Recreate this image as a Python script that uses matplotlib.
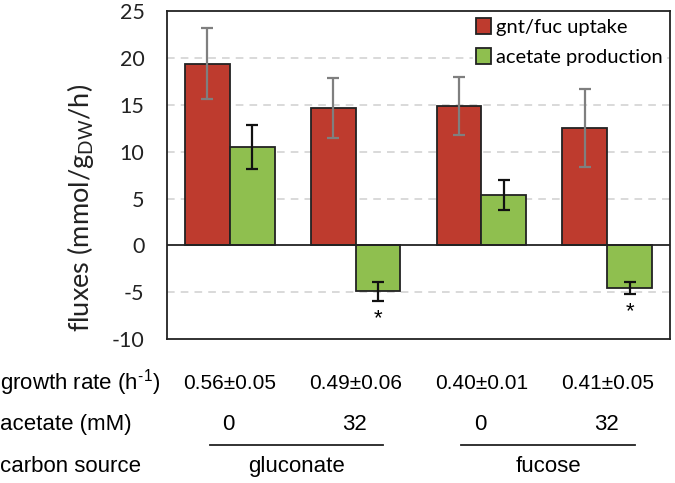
import matplotlib
matplotlib.use("Agg")
import matplotlib.pyplot as plt
import numpy as np

plt.rcParams["axes.unicode_minus"] = False

# Data
conditions = ["gnt 0", "gnt 32", "fuc 0", "fuc 32"]
uptake = [19.4, 14.65, 14.9, 12.55]
uptake_err = [3.8, 3.2, 3.1, 4.15]
acetate = [10.5, -4.9, 5.35, -4.55]
acetate_err = [2.35, 1.0, 1.6, 0.6]
significant = [False, True, False, True]
growth_rate = ["0.56±0.05", "0.49±0.06", "0.40±0.01", "0.41±0.05"]
acetate_mM = ["0", "32", "0", "32"]
carbon_source = ["gluconate", "fucose"]

red = "#BE3B2E"
green = "#8FBF4F"
main_font = "Lato"
table_font = "Liberation Sans"

fig = plt.figure(figsize=(6.75, 4.83), dpi=100)
ax = fig.add_axes([0.247, 0.298, 0.746, 0.679])

x = np.arange(len(conditions))
w = 0.357
ax.bar(x - w / 2, uptake, w, color=red, edgecolor="#222222", linewidth=1.3,
       label="gnt/fuc uptake", zorder=3)
ax.bar(x + w / 2, acetate, w, color=green, edgecolor="#222222", linewidth=1.3,
       label="acetate production", zorder=3)
ax.errorbar(x - w / 2, uptake, yerr=uptake_err, fmt="none", ecolor="#7f7f7f",
            elinewidth=1.6, capsize=4, capthick=1.6, zorder=4)
ax.errorbar(x + w / 2, acetate, yerr=acetate_err, fmt="none", ecolor="#111111",
            elinewidth=1.6, capsize=4, capthick=1.6, zorder=4)

for i, s in enumerate(significant):
    if s:
        ax.text(x[i] + w / 2, acetate[i] - acetate_err[i] - 1.9, "*",
                ha="center", va="center", fontsize=16, family=table_font)

ax.axhline(0, color="#222222", linewidth=1.3, zorder=5)
for g in [20, 15, 10, 5, -5]:
    ax.axhline(g, color="#d0d0d0", linewidth=1.1, linestyle=(0, (5, 4)), zorder=1)

ax.set_xlim(-0.5, 3.5)
ax.set_ylim(-10, 25)
ax.set_yticks(np.arange(-10, 26, 5))
ax.set_xticks([])
ax.tick_params(axis="y", length=0, pad=16, labelsize=15.5)
for lab in ax.get_yticklabels():
    lab.set_family(main_font)
    lab.set_color("#222222")
for sp in ax.spines.values():
    sp.set_linewidth(1.3)
    sp.set_color("#222222")

ax.set_ylabel("fluxes (mmol/g$\\mathregular{_{DW}}$/h)", family=main_font,
              fontsize=19.5, color="#222222")
ax.yaxis.set_label_coords(-0.14, 0.40)

leg = ax.legend(loc="upper right", bbox_to_anchor=(1.0, 1.0),
                prop={"family": main_font, "size": 14.5}, frameon=True,
                framealpha=1, edgecolor="white", fancybox=False,
                handlelength=0.75, handleheight=0.8, handletextpad=0.25,
                labelspacing=0.62, borderpad=0.15, borderaxespad=0.2)
leg.set_zorder(6)

# Table below the chart
tr = ax.get_xaxis_transform()
row_y = [-0.134, -0.262, -0.39]
row_labels = ["growth rate (h$\\mathregular{^{\u2010}}$$\\mathregular{^{1}}$)",
              "acetate (mM)", "carbon source"]
for ry, rl in zip(row_y, row_labels):
    fig.text(0.0, ax.get_position().y0 + ry * ax.get_position().height, rl,
             ha="left", va="center", family=table_font, fontsize=16)
for i in range(len(conditions)):
    ax.text(x[i], row_y[0], growth_rate[i], transform=tr, ha="center",
            va="center", family=table_font, fontsize=15, clip_on=False)
    ax.text(x[i] - 0.01, row_y[1], acetate_mM[i], transform=tr, ha="center",
            va="center", family=table_font, fontsize=16, clip_on=False)
for j, cs in enumerate(carbon_source):
    cx = x[2 * j] + 0.53
    ax.plot([cx - 0.69, cx + 0.69], [-0.323, -0.323], transform=tr,
            color="#222222", linewidth=1.3, clip_on=False)
    ax.text(cx, row_y[2], cs, transform=tr, ha="center", va="center",
            family=table_font, fontsize=16, clip_on=False)

fig.savefig("out.png", dpi=100, facecolor="white")
